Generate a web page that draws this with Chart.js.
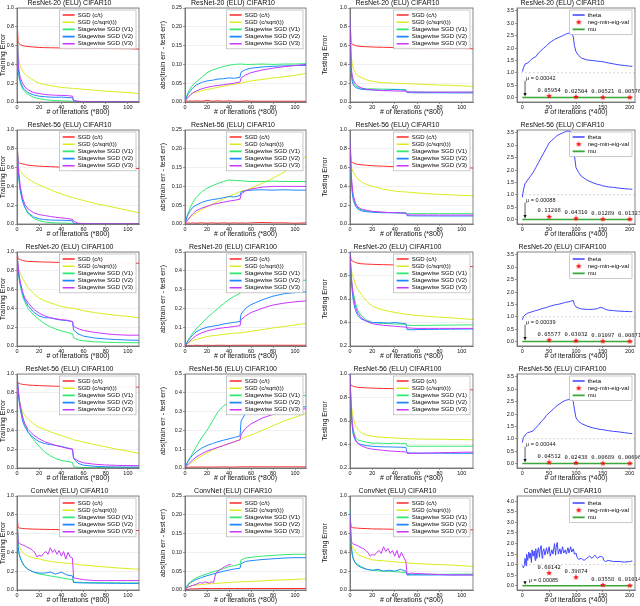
<!DOCTYPE html>
<html lang="en">
<head>
<meta charset="UTF-8">
<title>Stagewise SGD curves</title>
<script src="https://cdn.jsdelivr.net/npm/chart.js@4.4.0/dist/chart.umd.min.js"></script>
<style>
  html, body { margin: 0; padding: 0; background: #fff; }
  #fig { position: relative; width: 640px; height: 606px; overflow: hidden; }
  #fig canvas { position: absolute; }
</style>
</head>
<body>
<div id="fig"></div>
<script>
// ---- data -------------------------------------------------------------
// iterations (*800) used by the error / gap curves
const ITERS = [0,1,2,3,5,7,10,15,20,25,30,35,40,45,50,51,55,60,70,80,90,100,110];
// denser grid for the noisy ConvNet V3 curves
const ITERS_DENSE = [0,1,2,3,5,7,10,12,14,16,18,20,22,24,26,28,30,32,34,36,38,40,42,44,46,48,50,51,55,60,70,80,90,100,110];
// iterations (*400) for theta
const THETA_ITERS = [0,2,5,10,15,20,25,30,35,40,45,50,55,60,65,70,75,80,85,90,93,95,97,100,105,110,120,130,140,145,150,155,160,170,180,190,200,205];
const THETA_ITERS_CONV = [0,2,4,5,7,8,10,12,14,15,17,18,20,22,24,25,27,28,30,32,33,35,37,38,40,42,45,47,50,52,55,57,60,62,63,65,67,70,72,75,77,80,82,85,87,90,92,95,97,100,102,105,110,115,120,125,130,135,140,145,150,152,155,160,170,180,190,200,205];
const EIG_ITERS = [50, 100, 150, 200];
const MU_ITERS = [0, 205];
const THETA_BOUND_X = [-10, 210];
const THETA_BOUND = [1.0, 1.0];

const METHODS = ['SGD (c/t)', 'SGD (c/sqrt(t))', 'Stagewise SGD (V1)', 'Stagewise SGD (V2)', 'Stagewise SGD (V3)'];

// series order: c/t, c/sqrt(t), V1, V2, V3
const R20C10_TRAIN = [
  [0.90,0.64,0.62,0.61,0.60,0.595,0.59,0.585,0.58,0.578,0.577,0.576,0.575,0.574,0.573,0.573,0.572,0.571,0.570,0.569,0.568,0.567,0.563],
  [0.90,0.50,0.42,0.38,0.33,0.30,0.27,0.23,0.20,0.185,0.175,0.165,0.155,0.15,0.145,0.144,0.14,0.135,0.125,0.115,0.108,0.10,0.09],
  [0.90,0.35,0.25,0.20,0.14,0.11,0.08,0.05,0.035,0.025,0.02,0.015,0.012,0.01,0.008,0.003,0.002,0.002,0.001,0.001,0.001,0.001,0.001],
  [0.90,0.38,0.27,0.22,0.16,0.13,0.10,0.075,0.062,0.056,0.052,0.05,0.052,0.048,0.045,0.012,0.006,0.004,0.003,0.002,0.002,0.002,0.002],
  [0.90,0.42,0.32,0.26,0.20,0.16,0.13,0.10,0.09,0.08,0.075,0.072,0.07,0.068,0.062,0.015,0.008,0.005,0.004,0.003,0.003,0.003,0.003]
];
const R20C10_GAP = [
  [0,0.002,0.003,0.002,0.003,0.002,0.003,0.002,0.004,0.002,0.003,0.002,0.003,0.002,0.002,0.002,0.003,0.002,0.002,0.002,0.002,0.002,0.002],
  [0,0.006,0.01,0.014,0.02,0.023,0.026,0.03,0.033,0.036,0.039,0.042,0.045,0.047,0.05,0.05,0.053,0.056,0.06,0.064,0.067,0.071,0.076],
  [0,0.012,0.02,0.027,0.037,0.045,0.053,0.065,0.078,0.085,0.09,0.094,0.098,0.1,0.101,0.101,0.1,0.1,0.101,0.1,0.101,0.101,0.102],
  [0,0.01,0.016,0.022,0.03,0.037,0.045,0.052,0.056,0.058,0.061,0.062,0.064,0.063,0.066,0.08,0.086,0.09,0.093,0.095,0.096,0.097,0.097],
  [0,0.006,0.01,0.013,0.019,0.024,0.029,0.035,0.039,0.042,0.044,0.046,0.048,0.05,0.053,0.064,0.072,0.078,0.085,0.09,0.094,0.097,0.1]
];
const R20C10_TEST = [
  [0.90,0.63,0.615,0.61,0.60,0.595,0.59,0.588,0.585,0.583,0.582,0.58,0.58,0.578,0.577,0.577,0.576,0.575,0.573,0.572,0.571,0.57,0.566],
  [0.90,0.50,0.40,0.35,0.31,0.28,0.26,0.235,0.22,0.21,0.205,0.202,0.20,0.197,0.195,0.195,0.193,0.19,0.185,0.18,0.177,0.172,0.166],
  [0.90,0.35,0.25,0.20,0.17,0.155,0.145,0.14,0.14,0.138,0.137,0.136,0.135,0.133,0.13,0.107,0.106,0.105,0.105,0.105,0.104,0.104,0.104],
  [0.90,0.32,0.22,0.18,0.155,0.145,0.135,0.13,0.128,0.125,0.125,0.128,0.132,0.13,0.125,0.10,0.099,0.098,0.098,0.098,0.097,0.097,0.097],
  [0.90,0.38,0.28,0.23,0.19,0.17,0.15,0.135,0.13,0.125,0.12,0.12,0.118,0.116,0.115,0.108,0.106,0.106,0.105,0.105,0.105,0.105,0.105]
];
const R20C10_THETA = [1.05,1.2,1.35,1.4,1.5,1.6,1.65,1.8,1.9,2.0,2.1,2.2,2.28,2.35,2.4,2.45,2.5,2.55,2.6,2.6,2.55,2.45,2.1,1.85,1.7,1.6,1.52,1.5,1.47,1.46,1.45,1.42,1.4,1.36,1.32,1.3,1.27,1.26];
const R20C10_EIG = [0.05954, 0.02504, 0.00521, 0.00576];
const R20C10_MU = 0.00042;

const R56C10_TRAIN = [
  [0.90,0.66,0.65,0.645,0.64,0.635,0.625,0.62,0.615,0.612,0.61,0.607,0.605,0.603,0.60,0.60,0.60,0.599,0.598,0.597,0.595,0.593,0.59],
  [0.90,0.60,0.58,0.56,0.53,0.51,0.48,0.445,0.415,0.39,0.365,0.34,0.32,0.30,0.28,0.28,0.265,0.25,0.22,0.195,0.17,0.145,0.12],
  [0.90,0.60,0.45,0.35,0.25,0.18,0.11,0.06,0.035,0.022,0.015,0.012,0.01,0.009,0.008,0.002,0.001,0.001,0.001,0.001,0.001,0.001,0.001],
  [0.90,0.60,0.45,0.36,0.24,0.18,0.12,0.075,0.055,0.047,0.042,0.04,0.04,0.037,0.035,0.005,0.003,0.002,0.002,0.002,0.002,0.002,0.002],
  [0.90,0.62,0.50,0.40,0.28,0.21,0.16,0.12,0.10,0.09,0.08,0.072,0.065,0.058,0.05,0.03,0.008,0.004,0.003,0.003,0.003,0.003,0.003]
];
const R56C10_GAP = [
  [0,0.002,0.002,0.003,0.002,0.003,0.002,0.003,0.002,0.003,0.002,0.003,0.002,0.003,0.002,0.003,0.002,0.003,0.004,0.003,0.003,0.002,0.003],
  [0,0.004,0.008,0.011,0.017,0.022,0.029,0.038,0.046,0.053,0.06,0.067,0.074,0.08,0.086,0.087,0.09,0.095,0.108,0.122,0.138,0.156,0.18],
  [0,0.012,0.022,0.03,0.045,0.057,0.07,0.085,0.095,0.102,0.108,0.113,0.117,0.116,0.115,0.115,0.114,0.113,0.113,0.114,0.113,0.113,0.113],
  [0,0.01,0.02,0.026,0.036,0.044,0.05,0.057,0.062,0.065,0.067,0.07,0.073,0.072,0.076,0.085,0.089,0.09,0.091,0.09,0.091,0.09,0.09],
  [0,0.005,0.009,0.013,0.02,0.027,0.035,0.042,0.047,0.052,0.055,0.058,0.061,0.063,0.066,0.08,0.088,0.093,0.098,0.1,0.1,0.1,0.1]
];
const R56C10_TEST = [
  [0.90,0.66,0.655,0.65,0.64,0.635,0.63,0.625,0.62,0.617,0.615,0.612,0.61,0.608,0.607,0.607,0.605,0.604,0.603,0.602,0.601,0.60,0.595],
  [0.90,0.60,0.575,0.55,0.51,0.48,0.45,0.42,0.40,0.385,0.37,0.36,0.35,0.345,0.34,0.34,0.335,0.33,0.322,0.315,0.31,0.305,0.30],
  [0.90,0.50,0.35,0.28,0.20,0.17,0.15,0.14,0.13,0.127,0.125,0.122,0.12,0.12,0.12,0.11,0.11,0.11,0.11,0.11,0.11,0.11,0.11],
  [0.90,0.50,0.33,0.25,0.19,0.16,0.14,0.13,0.125,0.122,0.12,0.12,0.12,0.117,0.115,0.088,0.087,0.086,0.086,0.085,0.085,0.085,0.085],
  [0.90,0.55,0.40,0.30,0.22,0.18,0.16,0.145,0.135,0.13,0.125,0.122,0.12,0.118,0.115,0.097,0.096,0.096,0.095,0.095,0.095,0.095,0.095]
];
const R56C10_THETA = [0.9,1.2,1.45,1.6,1.75,1.9,2.1,2.3,2.5,2.7,2.9,3.1,3.2,3.3,3.4,3.45,3.5,3.55,3.58,3.55,3.45,3.2,2.6,2.1,1.9,1.75,1.6,1.5,1.42,1.4,1.36,1.34,1.32,1.3,1.27,1.25,1.23,1.22];
const R56C10_EIG = [0.11208, 0.04310, 0.01289, 0.01323];
const R56C10_MU = 0.00088;

const R20C100_TRAIN = [
  [1.0,0.93,0.925,0.92,0.91,0.905,0.90,0.898,0.895,0.893,0.892,0.89,0.89,0.889,0.888,0.888,0.887,0.886,0.885,0.885,0.884,0.883,0.88],
  [1.0,0.85,0.80,0.77,0.72,0.68,0.62,0.56,0.51,0.48,0.46,0.44,0.42,0.41,0.40,0.40,0.39,0.375,0.355,0.34,0.325,0.315,0.30],
  [1.0,0.80,0.70,0.64,0.53,0.47,0.40,0.33,0.28,0.235,0.205,0.18,0.16,0.145,0.13,0.09,0.065,0.055,0.045,0.04,0.037,0.035,0.035],
  [1.0,0.82,0.72,0.66,0.56,0.49,0.43,0.36,0.32,0.30,0.30,0.285,0.275,0.27,0.26,0.17,0.13,0.105,0.085,0.075,0.068,0.063,0.06],
  [1.0,0.85,0.75,0.68,0.58,0.51,0.46,0.39,0.35,0.32,0.30,0.29,0.28,0.275,0.26,0.21,0.185,0.165,0.145,0.13,0.12,0.115,0.115]
];
const R20C100_GAP = [
  [0,0.002,0.002,0.003,0.003,0.003,0.004,0.003,0.004,0.003,0.004,0.004,0.003,0.004,0.004,0.004,0.004,0.004,0.004,0.004,0.004,0.004,0.004],
  [0,0.006,0.011,0.015,0.022,0.028,0.035,0.043,0.05,0.055,0.058,0.062,0.065,0.068,0.07,0.07,0.074,0.078,0.087,0.096,0.104,0.112,0.12],
  [0,0.012,0.023,0.033,0.052,0.068,0.09,0.12,0.15,0.175,0.2,0.225,0.248,0.265,0.28,0.29,0.305,0.315,0.33,0.34,0.345,0.348,0.35],
  [0,0.01,0.02,0.03,0.045,0.058,0.075,0.09,0.1,0.105,0.11,0.117,0.122,0.126,0.13,0.17,0.2,0.22,0.245,0.265,0.278,0.284,0.288],
  [0,0.006,0.012,0.018,0.03,0.04,0.055,0.07,0.08,0.087,0.093,0.097,0.1,0.104,0.108,0.14,0.16,0.178,0.2,0.218,0.228,0.235,0.24]
];
const R20C100_TEST = [
  [1.0,0.93,0.925,0.92,0.91,0.905,0.90,0.897,0.895,0.893,0.892,0.891,0.89,0.889,0.888,0.888,0.887,0.886,0.885,0.885,0.884,0.882,0.875],
  [1.0,0.85,0.81,0.78,0.72,0.68,0.64,0.58,0.54,0.52,0.505,0.495,0.485,0.478,0.47,0.47,0.465,0.46,0.452,0.445,0.44,0.433,0.425],
  [1.0,0.80,0.70,0.65,0.56,0.50,0.46,0.42,0.40,0.395,0.392,0.39,0.388,0.386,0.385,0.376,0.375,0.375,0.376,0.377,0.378,0.379,0.38],
  [1.0,0.78,0.66,0.58,0.50,0.46,0.43,0.41,0.40,0.40,0.398,0.395,0.40,0.395,0.39,0.34,0.338,0.34,0.341,0.342,0.343,0.344,0.345],
  [1.0,0.82,0.70,0.62,0.53,0.48,0.44,0.41,0.39,0.382,0.376,0.372,0.368,0.364,0.36,0.355,0.352,0.35,0.35,0.35,0.35,0.35,0.35]
];
const R20C100_THETA = [0.88,1.0,1.08,1.15,1.18,1.22,1.25,1.28,1.32,1.35,1.38,1.42,1.45,1.48,1.5,1.52,1.55,1.58,1.6,1.63,1.65,1.66,1.5,1.4,1.35,1.32,1.3,1.3,1.33,1.38,1.36,1.3,1.27,1.25,1.23,1.22,1.21,1.21];
const R20C100_EIG = [0.05577, 0.03032, 0.01097, 0.00871];
const R20C100_MU = 0.00039;

const R56C100_TRAIN = [
  [0.92,0.905,0.90,0.895,0.89,0.887,0.883,0.879,0.876,0.874,0.872,0.87,0.869,0.868,0.867,0.867,0.866,0.865,0.864,0.863,0.862,0.861,0.86],
  [0.98,0.80,0.72,0.67,0.60,0.56,0.52,0.47,0.43,0.41,0.385,0.365,0.345,0.325,0.305,0.30,0.29,0.275,0.25,0.225,0.2,0.18,0.155],
  [1.0,0.85,0.74,0.66,0.55,0.47,0.38,0.30,0.23,0.17,0.13,0.1,0.08,0.07,0.06,0.015,0.007,0.005,0.003,0.003,0.003,0.003,0.003],
  [1.0,0.82,0.70,0.62,0.50,0.44,0.38,0.32,0.28,0.26,0.25,0.24,0.23,0.215,0.20,0.10,0.05,0.03,0.018,0.013,0.011,0.01,0.01],
  [1.0,0.85,0.74,0.66,0.54,0.47,0.41,0.35,0.31,0.28,0.26,0.24,0.225,0.21,0.20,0.11,0.075,0.055,0.04,0.032,0.028,0.026,0.025]
];
const R56C100_GAP = [
  [0,0.003,0.004,0.004,0.005,0.005,0.005,0.005,0.005,0.005,0.005,0.006,0.005,0.005,0.006,0.006,0.006,0.006,0.006,0.006,0.006,0.006,0.006],
  [0,0.006,0.011,0.016,0.025,0.033,0.045,0.065,0.08,0.095,0.11,0.12,0.13,0.14,0.15,0.155,0.165,0.175,0.2,0.225,0.25,0.27,0.29],
  [0,0.015,0.028,0.04,0.06,0.08,0.11,0.16,0.2,0.25,0.3,0.33,0.35,0.365,0.375,0.377,0.38,0.383,0.385,0.385,0.385,0.385,0.385],
  [0,0.015,0.027,0.037,0.055,0.068,0.085,0.105,0.12,0.13,0.14,0.148,0.155,0.163,0.17,0.25,0.29,0.308,0.318,0.322,0.324,0.325,0.325],
  [0,0.008,0.015,0.021,0.032,0.043,0.058,0.075,0.09,0.1,0.11,0.12,0.13,0.14,0.15,0.18,0.21,0.235,0.265,0.285,0.3,0.308,0.315]
];
const R56C100_TEST = [
  [0.92,0.905,0.90,0.895,0.89,0.887,0.884,0.882,0.88,0.878,0.877,0.876,0.875,0.874,0.873,0.873,0.872,0.871,0.87,0.869,0.868,0.867,0.865],
  [0.98,0.75,0.68,0.62,0.56,0.53,0.50,0.48,0.47,0.465,0.46,0.458,0.455,0.452,0.45,0.45,0.448,0.447,0.445,0.445,0.443,0.442,0.44],
  [1.0,0.70,0.58,0.52,0.46,0.44,0.43,0.42,0.41,0.412,0.41,0.408,0.412,0.408,0.41,0.386,0.385,0.385,0.385,0.385,0.385,0.385,0.385],
  [1.0,0.68,0.55,0.48,0.43,0.41,0.40,0.39,0.385,0.382,0.38,0.38,0.378,0.377,0.375,0.33,0.328,0.327,0.326,0.326,0.325,0.325,0.325],
  [1.0,0.72,0.58,0.50,0.44,0.41,0.39,0.37,0.36,0.355,0.35,0.345,0.342,0.34,0.336,0.325,0.324,0.325,0.327,0.33,0.332,0.334,0.335]
];
const R56C100_THETA = [0.85,1.05,1.15,1.25,1.28,1.32,1.45,1.55,1.7,1.8,1.95,2.05,2.15,2.25,2.35,2.42,2.5,2.55,2.58,2.6,2.58,2.5,2.2,1.85,1.7,1.62,1.52,1.45,1.4,1.38,1.37,1.35,1.33,1.3,1.28,1.25,1.22,1.21];
const R56C100_EIG = [0.04512, 0.02438, 0.00689, 0.00696];
const R56C100_MU = 0.00044;

// ConvNet: V3 (last series) is on ITERS_DENSE
const CONV_TRAIN = [
  [0.80,0.665,0.66,0.657,0.655,0.653,0.65,0.648,0.646,0.645,0.644,0.643,0.642,0.641,0.64,0.64,0.64,0.639,0.638,0.637,0.636,0.635,0.632],
  [0.85,0.50,0.46,0.44,0.40,0.38,0.36,0.34,0.33,0.315,0.305,0.295,0.29,0.285,0.28,0.28,0.27,0.265,0.255,0.245,0.235,0.228,0.22],
  [0.85,0.45,0.38,0.34,0.28,0.25,0.22,0.19,0.17,0.16,0.15,0.14,0.13,0.12,0.11,0.085,0.083,0.08,0.078,0.077,0.076,0.075,0.075],
  [0.85,0.46,0.38,0.34,0.29,0.25,0.22,0.19,0.18,0.18,0.19,0.17,0.19,0.16,0.15,0.08,0.077,0.075,0.073,0.072,0.071,0.07,0.07],
  [0.80,0.50,0.50,0.49,0.48,0.47,0.45,0.44,0.42,0.40,0.35,0.37,0.36,0.39,0.41,0.38,0.45,0.40,0.43,0.38,0.42,0.36,0.41,0.33,0.40,0.35,0.34,0.13,0.12,0.11,0.10,0.10,0.10,0.10,0.10]
];
const CONV_GAP = [
  [0,0.001,0.002,0.002,0.003,0.003,0.003,0.004,0.004,0.004,0.004,0.004,0.004,0.004,0.004,0.004,0.004,0.004,0.004,0.004,0.004,0.004,0.004],
  [0,0.005,0.008,0.01,0.011,0.012,0.013,0.015,0.016,0.017,0.018,0.019,0.02,0.021,0.021,0.022,0.022,0.023,0.024,0.026,0.027,0.028,0.03],
  [0,0.008,0.012,0.016,0.022,0.026,0.032,0.038,0.043,0.048,0.052,0.057,0.062,0.065,0.068,0.08,0.085,0.087,0.09,0.092,0.094,0.095,0.095],
  [0,0.007,0.01,0.014,0.02,0.023,0.028,0.033,0.038,0.042,0.046,0.05,0.053,0.056,0.058,0.07,0.076,0.078,0.081,0.083,0.085,0.086,0.086],
  [0,0.004,0.006,0.008,0.01,0.012,0.015,0.018,0.02,0.018,0.022,0.02,0.018,0.022,0.02,0.045,0.05,0.054,0.058,0.062,0.065,0.067,0.068]
];
const CONV_TEST = [
  [0.80,0.67,0.665,0.662,0.66,0.658,0.655,0.653,0.65,0.649,0.648,0.647,0.646,0.645,0.645,0.645,0.644,0.643,0.642,0.641,0.64,0.64,0.64],
  [0.85,0.50,0.46,0.44,0.41,0.38,0.36,0.34,0.32,0.315,0.31,0.305,0.30,0.295,0.29,0.29,0.285,0.28,0.275,0.27,0.265,0.258,0.25],
  [0.85,0.47,0.38,0.33,0.29,0.27,0.25,0.22,0.21,0.205,0.2,0.2,0.195,0.19,0.185,0.165,0.165,0.165,0.166,0.167,0.168,0.169,0.17],
  [0.85,0.48,0.38,0.33,0.28,0.26,0.24,0.22,0.21,0.22,0.20,0.21,0.20,0.22,0.20,0.16,0.16,0.16,0.16,0.16,0.16,0.16,0.16],
  [0.80,0.52,0.50,0.49,0.48,0.47,0.45,0.44,0.42,0.40,0.36,0.38,0.37,0.40,0.42,0.39,0.46,0.41,0.44,0.39,0.42,0.36,0.42,0.34,0.40,0.35,0.30,0.17,0.18,0.175,0.17,0.165,0.16,0.16,0.16]
];
const CONV_THETA = [0.95,0.85,1.0,1.3,0.95,1.5,1.2,1.6,1.3,1.55,1.1,1.7,1.4,1.65,1.2,1.75,1.3,1.6,1.8,1.35,1.7,1.9,1.3,1.6,1.75,1.45,1.8,1.5,1.85,1.4,1.7,1.5,2.0,1.45,1.8,2.05,1.5,1.75,1.5,1.85,1.55,1.7,1.5,1.8,1.55,1.85,1.6,1.75,1.5,1.55,1.35,1.25,1.3,1.2,1.3,1.4,1.3,1.45,1.3,1.4,1.35,1.2,1.15,1.2,1.15,1.15,1.12,1.15,1.17];
const CONV_EIG = [0.60142, 0.39874, 0.03558, 0.01014];
const CONV_MU = 0.00085;

// ---- styling / layout -------------------------------------------------
const METHOD_COLORS = ['#ff2b2b', '#dbeb1e', '#30ea70', '#2089ff', '#c838ff'];
const THETA_COLOR = '#3f45ff';
const EIG_COLOR = '#ff1010';
const MU_COLOR = '#3aa83a';
const FONT = '"Liberation Sans", Arial, sans-serif';

Chart.defaults.font.family = FONT;
Chart.defaults.color = '#111';
Chart.defaults.animation = false;

const COL_BOX = [
  {left: 0,   width: 152, plotLeft: 17,  plotRight: 139},
  {left: 160, width: 152, plotLeft: 185, plotRight: 306},
  {left: 322, width: 160, plotLeft: 350, plotRight: 473},
  {left: 490, width: 150, plotLeft: 517, plotRight: 635}
];
const ROW_PITCH = 122, PLOT_BOTTOM = 102, X_AXIS_H = 14, LEGEND_INSET = 3;

const ROWS = [
  {title: 'ResNet-20 (ELU) CIFAR10', train: R20C10_TRAIN, gap: R20C10_GAP, test: R20C10_TEST,
   gapMax: 0.25, gapStep: 0.05, gapDec: 2, testMin: 0,
   theta: R20C10_THETA, thetaIters: THETA_ITERS, eig: R20C10_EIG, mu: R20C10_MU,
   thetaMin: -0.18, thetaMax: 3.62, note: {tx: 7, ty: 0.78, ay: 0.68}},
  {title: 'ResNet-56 (ELU) CIFAR10', train: R56C10_TRAIN, gap: R56C10_GAP, test: R56C10_TEST,
   gapMax: 0.25, gapStep: 0.05, gapDec: 2, testMin: 0,
   theta: R56C10_THETA, thetaIters: THETA_ITERS, eig: R56C10_EIG, mu: R56C10_MU,
   thetaMin: -0.18, thetaMax: 3.62, note: {tx: 7, ty: 0.78, ay: 0.68}},
  {title: 'ResNet-20 (ELU) CIFAR100', train: R20C100_TRAIN, gap: R20C100_GAP, test: R20C100_TEST,
   gapMax: 0.5, gapStep: 0.1, gapDec: 1, testMin: 0.2,
   theta: R20C100_THETA, thetaIters: THETA_ITERS, eig: R20C100_EIG, mu: R20C100_MU,
   thetaMin: -0.18, thetaMax: 3.62, note: {tx: 7, ty: 0.78, ay: 0.68}},
  {title: 'ResNet-56 (ELU) CIFAR100', train: R56C100_TRAIN, gap: R56C100_GAP, test: R56C100_TEST,
   gapMax: 0.5, gapStep: 0.1, gapDec: 1, testMin: 0.2,
   theta: R56C100_THETA, thetaIters: THETA_ITERS, eig: R56C100_EIG, mu: R56C100_MU,
   thetaMin: -0.18, thetaMax: 3.62, note: {tx: 7, ty: 0.78, ay: 0.68}},
  {title: 'ConvNet (ELU) CIFAR10', train: CONV_TRAIN, gap: CONV_GAP, test: CONV_TEST, v3Iters: ITERS_DENSE,
   gapMax: 0.25, gapStep: 0.05, gapDec: 2, testMin: 0,
   theta: CONV_THETA, thetaIters: THETA_ITERS_CONV, eig: CONV_EIG, mu: CONV_MU,
   thetaMin: -0.2, thetaMax: 4.25, note: {tx: 12, ty: 0.24, ay: 0.18}}
];

// ---- helpers ----------------------------------------------------------
const fig = document.getElementById('fig');

function makeCanvas(r, c) {
  const b = COL_BOX[c];
  const h = Math.min(ROW_PITCH, 606 - r * ROW_PITCH);
  const cv = document.createElement('canvas');
  cv.width = b.width; cv.height = h;
  cv.style.left = b.left + 'px';
  cv.style.top = (r * ROW_PITCH) + 'px';
  cv.style.width = b.width + 'px';
  cv.style.height = h + 'px';
  fig.appendChild(cv);
  return {cv, h};
}

function toPoints(xs, ys) {
  return ys.map((v, i) => ({x: xs[i], y: v}));
}

function onStep(v, step) {
  return v >= -1e-9 && Math.abs(v / step - Math.round(v / step)) < 1e-6;
}

function starMarker(size, color) {
  const c = document.createElement('canvas');
  c.width = c.height = size;
  const g = c.getContext('2d');
  const R = size / 2, r = R * 0.45;
  g.beginPath();
  for (let k = 0; k < 10; k++) {
    const a = -Math.PI / 2 + k * Math.PI / 5;
    const rr = k % 2 ? r : R;
    g.lineTo(R + rr * Math.cos(a), R + rr * Math.sin(a));
  }
  g.closePath();
  g.fillStyle = color;
  g.fill();
  return c;
}
const STAR = starMarker(6, EIG_COLOR);

// axes frame + legend box drawn on top of the curves
const framePlugin = {
  id: 'frame',
  afterLayout(chart) {
    const lg = chart.legend;
    if (!lg || !lg.options.display || !lg.columnSizes || !lg.columnSizes.length) return;
    const ca = chart.chartArea, pad = lg.options.labels.padding;
    const frameW = lg.columnSizes[0].width + 2 * LEGEND_INSET;
    lg.left = ca.right - 3 - frameW + LEGEND_INSET - pad;
    lg.right = lg.left + lg.width;
    lg.top = ca.top + 4 - pad;
    lg.bottom = lg.top + lg.height;
  },
  afterDatasetsDraw(chart) {
    const {ctx, chartArea: ca} = chart;
    ctx.save();
    ctx.strokeStyle = '#666';
    ctx.lineWidth = 0.8;
    ctx.strokeRect(ca.left, ca.top, ca.right - ca.left, ca.bottom - ca.top);
    const lg = chart.legend;
    if (lg && lg.options.display && lg.columnSizes && lg.columnSizes.length) {
      const pad = lg.options.labels.padding;
      const cs = lg.columnSizes[0];
      const x0 = lg.left + pad - LEGEND_INSET, y0 = lg.top + pad - 2;
      const w = cs.width + 2 * LEGEND_INSET, h = cs.height - pad + 4;
      ctx.fillStyle = 'rgba(255,255,255,0.95)';
      ctx.fillRect(x0, y0, w, h);
      ctx.strokeStyle = '#b4b4b4';
      ctx.lineWidth = 0.7;
      ctx.strokeRect(x0, y0, w, h);
      ctx.restore();
      ctx.save();
      lg.draw();
    }
    ctx.restore();
  }
};

function xScale(min, max, step, title) {
  return {
    type: 'linear', min, max,
    afterFit: s => { s.height = X_AXIS_H; },
    afterBuildTicks: s => { s.ticks = s.ticks.filter(t => onStep(t.value, step)); },
    ticks: {stepSize: step, includeBounds: false, autoSkip: false, maxRotation: 0, padding: 0.5,
            font: {size: 5.5}, color: '#111', callback: v => String(Math.round(v))},
    grid: {drawOnChartArea: false, tickLength: 2, tickColor: '#555', lineWidth: 0.6},
    border: {color: '#666', width: 0.8},
    title: {display: true, text: title, font: {size: 7}, color: '#111', padding: 0}
  };
}

function yScale(b, min, max, step, dec, title, grid) {
  return {
    type: 'linear', min, max,
    afterFit: s => { s.width = b.plotLeft - b.left; },
    afterBuildTicks: s => {
      s.ticks = s.ticks.filter(t => onStep(t.value, step) && t.value >= min - 1e-9 && t.value <= max + 1e-9);
    },
    ticks: {stepSize: step, includeBounds: false, autoSkip: false, padding: 1,
            font: {size: 5.3}, color: '#111', callback: v => v.toFixed(dec)},
    grid: {drawOnChartArea: grid, color: '#e6e6e6', lineWidth: 0.6, tickLength: 2, tickColor: '#555'},
    border: {color: '#666', width: 0.8},
    title: {display: !!title, text: title || '', font: {size: 7, lineHeight: 1}, color: '#111', padding: 0}
  };
}

function baseOptions(b, h, title, scales, reverseLegend) {
  return {
    responsive: false, animation: false, events: [],
    layout: {padding: {left: 0, top: 0, right: b.left + b.width - b.plotRight, bottom: h - PLOT_BOTTOM - X_AXIS_H}},
    plugins: {
      title: {display: true, text: title, font: {size: 7, lineHeight: 1, weight: 'normal'}, color: '#111',
              padding: {top: 0, bottom: 1}},
      legend: {display: true, position: 'chartArea', align: 'start', reverse: reverseLegend,
               labels: {usePointStyle: true, pointStyleWidth: 12, font: {size: 6}, color: '#111',
                        padding: 1.2, filter: it => !!it.text}},
      tooltip: {enabled: false}
    },
    scales
  };
}

function errorChart(r, c, row, series, yMin, yMax, yStep, yDec, yTitle) {
  const b = COL_BOX[c];
  const {cv, h} = makeCanvas(r, c);
  const datasets = [];
  // later methods are drawn on top, legend keeps the original order
  for (let k = METHODS.length - 1; k >= 0; k--) {
    const xs = (k === 4 && row.v3Iters) ? row.v3Iters : ITERS;
    datasets.push({
      label: METHODS[k], data: toPoints(xs, series[k]),
      borderColor: METHOD_COLORS[k], backgroundColor: METHOD_COLORS[k],
      borderWidth: 1, pointRadius: 0, pointHoverRadius: 0, pointStyle: 'line', pointBorderWidth: 1.6
    });
  }
  new Chart(cv, {
    type: 'line',
    data: {datasets},
    options: baseOptions(b, h, row.title, {
      x: xScale(0, 110, 20, '# of iterations (*800)'),
      y: yScale(b, yMin, yMax, yStep, yDec, yTitle, true)
    }, true),
    plugins: [framePlugin]
  });
}

function notesPlugin(row) {
  return {
    id: 'eigNotes',
    afterDatasetsDraw(chart) {
      const {ctx, scales: {x, y}} = chart;
      ctx.save();
      ctx.fillStyle = '#111';
      ctx.font = '5.5px "DejaVu Sans Mono", monospace';
      ctx.textAlign = 'center';
      ctx.textBaseline = 'bottom';
      EIG_ITERS.forEach((it, i) => {
        const v = row.eig[i];
        ctx.fillText(v.toFixed(5), x.getPixelForValue(it), y.getPixelForValue(v) - 3);
      });
      // mu annotation with arrow
      const ax = x.getPixelForValue(5);
      const ay0 = y.getPixelForValue(row.note.ay);
      const ay1 = y.getPixelForValue(row.mu) - 1;
      ctx.strokeStyle = '#111';
      ctx.lineWidth = 0.7;
      ctx.beginPath();
      ctx.moveTo(ax, ay0);
      ctx.lineTo(ax, ay1 - 3);
      ctx.stroke();
      ctx.beginPath();
      ctx.moveTo(ax - 1.6, ay1 - 3.5);
      ctx.lineTo(ax + 1.6, ay1 - 3.5);
      ctx.lineTo(ax, ay1);
      ctx.closePath();
      ctx.fill();
      ctx.font = '5.5px ' + FONT;
      ctx.textAlign = 'left';
      ctx.textBaseline = 'middle';
      ctx.fillText('\u03bc = ' + row.mu.toFixed(5), x.getPixelForValue(row.note.tx), y.getPixelForValue(row.note.ty));
      ctx.restore();
    }
  };
}

function thetaChart(r, row) {
  const b = COL_BOX[3];
  const {cv, h} = makeCanvas(r, 3);
  const datasets = [
    {label: 'theta', data: toPoints(row.thetaIters, row.theta), borderColor: THETA_COLOR, backgroundColor: THETA_COLOR,
     borderWidth: 1, pointRadius: 0, pointHoverRadius: 0, pointStyle: 'line', pointBorderWidth: 1.6},
    {label: 'neg-min-eig-val', data: toPoints(EIG_ITERS, row.eig), showLine: false,
     pointStyle: STAR, pointRadius: 3, borderColor: EIG_COLOR, backgroundColor: EIG_COLOR},
    {label: 'mu', data: toPoints(MU_ITERS, [row.mu, row.mu]), borderColor: MU_COLOR, backgroundColor: MU_COLOR,
     borderWidth: 1.5, pointRadius: 0, pointHoverRadius: 0, pointStyle: 'line', pointBorderWidth: 1.6},
    {label: '', data: toPoints(THETA_BOUND_X, THETA_BOUND), borderColor: '#cdcdcd', borderWidth: 0.8,
     borderDash: [2, 2], pointRadius: 0, pointHoverRadius: 0}
  ];
  new Chart(cv, {
    type: 'line',
    data: {datasets},
    options: baseOptions(b, h, row.title, {
      x: xScale(THETA_BOUND_X[0], THETA_BOUND_X[1], 50, '# of iterations (*400)'),
      y: yScale(b, row.thetaMin, row.thetaMax, 0.5, 1, '', false)
    }, false),
    plugins: [notesPlugin(row), framePlugin]
  });
}

ROWS.forEach((row, r) => {
  errorChart(r, 0, row, row.train, 0, 1, 0.2, 1, 'Training Error');
  errorChart(r, 1, row, row.gap, 0, row.gapMax, row.gapStep, row.gapDec, 'abs(train err - test err)');
  errorChart(r, 2, row, row.test, row.testMin, 1, 0.2, 1, 'Testing Error');
  thetaChart(r, row);
});
</script>
</body>
</html>
